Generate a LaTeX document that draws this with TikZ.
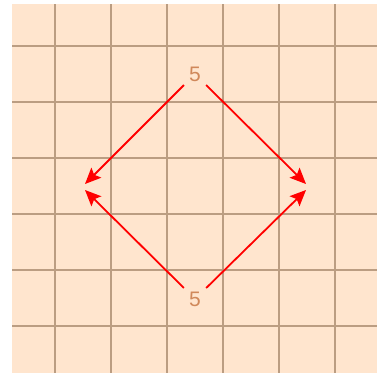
\documentclass[tikz,border=0pt]{standalone}
\usepackage{fontspec}
\setmainfont{Liberation Sans}
\usetikzlibrary{arrows.meta}
\definecolor{peach}{RGB}{255,229,206}
\definecolor{gridtan}{RGB}{187,157,130}
\definecolor{lbl}{RGB}{208,136,90}
\tikzset{
  gridline/.style={draw=gridtan, line width=2.4pt},
  lab/.style={circle, inner sep=0pt, minimum size=31pt, text=lbl, font=\fontsize{21}{21}\selectfont},
  arr/.style={draw=red, line width=1.8pt, -{Stealth[length=16pt,width=14pt,inset=3pt]}}
}
\begin{document}
\begin{tikzpicture}[x=1pt,y=-1pt]
\useasboundingbox (0,0) rectangle (377,373);
\fill[peach] (12,4) rectangle (377,373);
\foreach \x in {55,111,167,223,279,335} \draw[gridline] (\x,4) -- (\x,373);
\foreach \y in {46,102,158,214,270,326} \draw[gridline] (12,\y) -- (377,\y);
\node[lab] (top) at (195,74) {5};
\node[lab] (bot) at (195,299) {5};
\coordinate (lu) at (85,184);
\coordinate (ru) at (306,184);
\coordinate (ll) at (85,190);
\coordinate (rl) at (306,190);
\draw[arr] (top) -- (lu);
\draw[arr] (top) -- (ru);
\draw[arr] (bot) -- (ll);
\draw[arr] (bot) -- (rl);
\end{tikzpicture}
\end{document}
